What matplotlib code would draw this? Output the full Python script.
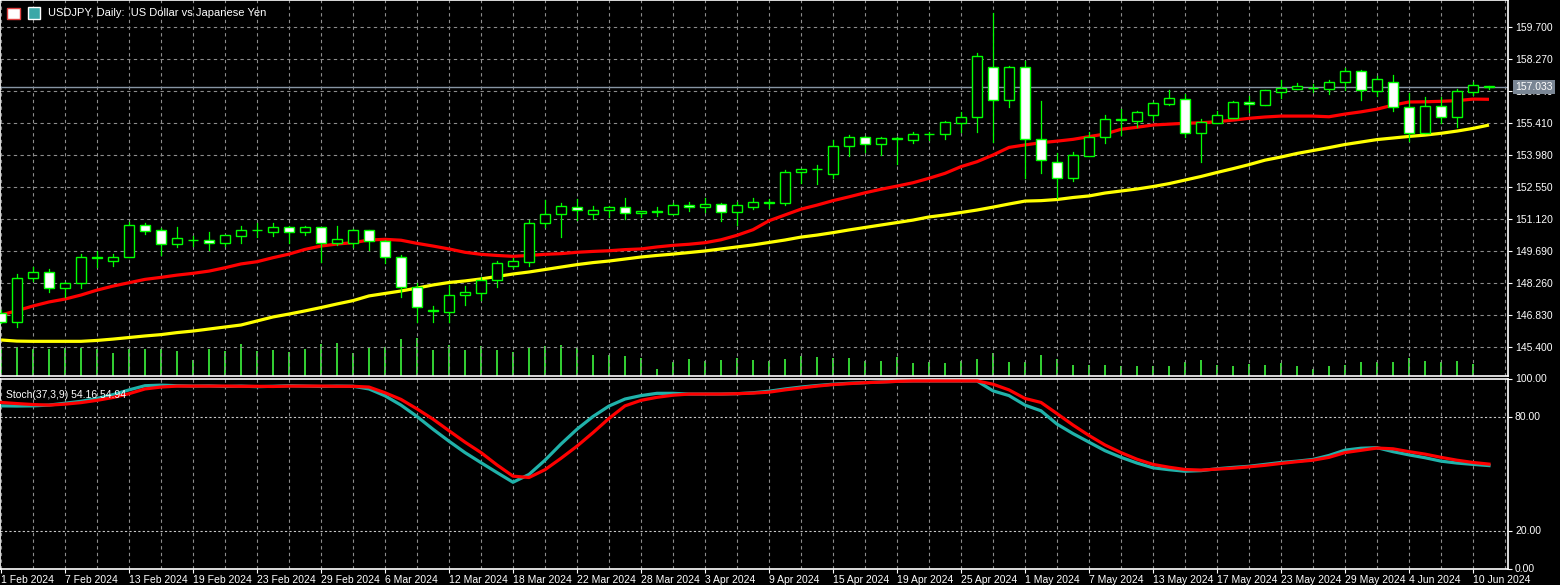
import matplotlib
matplotlib.use('Agg')
import matplotlib.pyplot as plt
from matplotlib.patches import Rectangle

# daily USDJPY bars, 1 Feb 2024 .. 11 Jun 2024
opens = [146.93, 146.50, 148.47, 148.74, 148.02, 148.24, 149.41, 149.26, 149.41, 150.85,
         150.62, 149.99, 150.18, 150.17, 150.06, 150.37, 150.64, 150.52, 150.77, 150.55,
         150.74, 150.03, 150.03, 150.62, 150.13, 149.41, 148.09, 147.05, 146.97, 147.70,
         147.82, 148.39, 149.00, 149.21, 150.92, 151.33, 151.67, 151.36, 151.51, 151.64,
         151.37, 151.46, 151.33, 151.73, 151.64, 151.77, 151.42, 151.67, 151.87, 151.82,
         153.20, 153.36, 153.12, 154.38, 154.77, 154.46, 154.73, 154.65, 154.91, 154.90,
         155.39, 155.69, 157.90, 156.42, 157.90, 154.68, 153.65, 152.94, 153.95, 154.77,
         155.58, 155.51, 155.75, 156.25, 156.47, 154.95, 155.39, 155.64, 156.33, 156.21,
         156.81, 156.94, 156.97, 156.94, 157.23, 157.72, 156.83, 157.23, 156.11, 154.95,
         156.15, 155.66, 156.80, 157.04]
highs = [147.05, 148.66, 148.99, 148.87, 148.30, 149.55, 149.69, 149.55, 150.97, 150.94,
         150.70, 150.77, 150.37, 150.52, 150.42, 150.80, 150.92, 150.93, 150.80, 150.80,
         150.77, 150.80, 150.66, 150.64, 150.20, 149.50, 148.24, 147.23, 148.17, 148.12,
         148.53, 149.25, 149.36, 151.07, 151.97, 151.85, 152.01, 151.69, 151.70, 152.07,
         151.46, 151.67, 151.85, 151.90, 152.06, 151.84, 151.88, 152.05, 152.00, 153.32,
         153.34, 153.55, 154.65, 154.87, 154.85, 154.80, 154.78, 155.00, 155.01, 155.50,
         155.90, 158.55, 160.34, 157.95, 158.18, 156.41, 154.05, 154.12, 155.02, 155.77,
         156.03, 155.95, 156.33, 156.88, 156.72, 155.60, 155.96, 156.38, 156.64, 156.88,
         157.33, 157.22, 157.17, 157.32, 157.86, 157.78, 157.53, 157.55, 156.75, 156.58,
         156.56, 156.95, 157.26, 157.08]
lows = [146.45, 146.30, 148.36, 147.87, 147.62, 148.02, 148.96, 149.00, 149.41, 150.43,
        149.50, 149.88, 149.90, 149.73, 149.90, 150.06, 150.32, 150.36, 150.03, 150.40,
        149.21, 149.96, 149.88, 149.73, 149.16, 147.65, 146.53, 146.53, 146.53, 147.27,
        147.50, 148.09, 148.95, 149.03, 150.77, 150.33, 151.07, 151.14, 151.20, 151.10,
        151.22, 151.24, 151.33, 151.47, 151.42, 151.04, 150.84, 151.57, 151.62, 151.75,
        152.71, 152.68, 152.94, 153.95, 154.13, 154.00, 153.58, 154.53, 154.64, 154.68,
        155.00, 155.02, 154.57, 156.14, 152.96, 153.16, 152.04, 152.84, 153.95, 154.53,
        154.87, 155.25, 155.55, 156.20, 154.77, 153.68, 155.39, 155.64, 155.91, 156.21,
        156.52, 156.94, 156.78, 156.70, 156.87, 156.44, 156.60, 155.96, 154.62, 154.95,
        155.43, 155.22, 156.66, 156.95]
closes = [146.50, 148.47, 148.74, 148.02, 148.24, 149.41, 149.36, 149.41, 150.85, 150.60,
          149.99, 150.26, 150.16, 150.06, 150.40, 150.62, 150.62, 150.77, 150.55, 150.74,
          150.03, 150.21, 150.62, 150.15, 149.41, 148.09, 147.17, 147.02, 147.70, 147.85,
          148.39, 149.14, 149.24, 150.92, 151.33, 151.70, 151.51, 151.51, 151.64, 151.37,
          151.46, 151.44, 151.73, 151.64, 151.77, 151.42, 151.73, 151.88, 151.85, 153.20,
          153.34, 153.37, 154.38, 154.77, 154.46, 154.72, 154.71, 154.90, 154.90, 155.44,
          155.69, 158.40, 156.42, 157.90, 154.68, 153.74, 152.94, 153.98, 154.80, 155.57,
          155.56, 155.89, 156.29, 156.51, 154.95, 155.47, 155.79, 156.33, 156.24, 156.88,
          156.96, 157.05, 156.96, 157.24, 157.72, 156.87, 157.36, 156.11, 154.95, 156.15,
          155.66, 156.84, 157.09, 157.08]
tick_volume = [27, 29, 27, 27, 28, 28, 27, 23, 27, 27, 27, 25, 16, 27, 25, 32, 25, 26, 24, 27,
               32, 33, 23, 28, 29, 37, 38, 26, 31, 26, 30, 26, 24, 28, 30, 31, 28, 21, 21, 20,
               18, 7, 14, 17, 15, 16, 18, 16, 15, 17, 20, 19, 18, 18, 15, 15, 19, 13, 14, 13,
               15, 17, 23, 14, 14, 21, 17, 11, 11, 11, 10, 10, 10, 10, 14, 16, 11, 10, 12, 11,
               13, 10, 7, 10, 11, 14, 14, 14, 18, 15, 14, 15, 12, 0]
ma_red = [146.83, 147.02, 147.23, 147.41, 147.54, 147.72, 147.94, 148.12, 148.27, 148.42,
          148.51, 148.61, 148.69, 148.79, 148.94, 149.11, 149.21, 149.39, 149.55, 149.76,
          149.91, 150.00, 150.06, 150.18, 150.21, 150.17, 150.03, 149.91, 149.78, 149.63,
          149.54, 149.49, 149.45, 149.49, 149.54, 149.57, 149.63, 149.67, 149.70, 149.75,
          149.78, 149.87, 149.94, 149.99, 150.06, 150.19, 150.39, 150.64, 151.04, 151.30,
          151.56, 151.74, 151.94, 152.11, 152.29, 152.45, 152.59, 152.74, 152.94, 153.16,
          153.46, 153.68, 153.98, 154.32, 154.43, 154.53, 154.60, 154.68, 154.80, 154.92,
          155.13, 155.22, 155.32, 155.36, 155.40, 155.42, 155.47, 155.54, 155.62, 155.68,
          155.72, 155.72, 155.72, 155.69, 155.81, 155.91, 156.03, 156.21, 156.35, 156.36,
          156.38, 156.41, 156.48, 156.47]
ma_yellow = [145.71, 145.66, 145.65, 145.65, 145.65, 145.65, 145.69, 145.75, 145.82, 145.89,
             145.95, 146.04, 146.11, 146.20, 146.29, 146.38, 146.56, 146.74, 146.87, 147.01,
             147.16, 147.32, 147.47, 147.68, 147.79, 147.90, 148.03, 148.17, 148.28, 148.35,
             148.44, 148.55, 148.66, 148.75, 148.86, 148.97, 149.08, 149.17, 149.24, 149.33,
             149.42, 149.49, 149.55, 149.62, 149.69, 149.78, 149.87, 149.96, 150.07, 150.18,
             150.31, 150.40, 150.51, 150.63, 150.74, 150.85, 150.96, 151.07, 151.21, 151.30,
             151.41, 151.52, 151.65, 151.79, 151.92, 151.94, 151.99, 152.08, 152.15, 152.28,
             152.37, 152.46, 152.57, 152.70, 152.86, 153.02, 153.20, 153.37, 153.55, 153.75,
             153.89, 154.05, 154.18, 154.31, 154.45, 154.56, 154.67, 154.74, 154.81, 154.87,
             154.95, 155.05, 155.17, 155.32]
stoch_main = [85.6, 85.5, 85.6, 86.0, 87.0, 88.0, 89.5, 91.5, 94.0, 96.2,
              96.5, 96.2, 96.0, 96.1, 95.8, 96.0, 95.7, 95.9, 96.2, 96.0,
              95.8, 96.0, 95.9, 94.5, 90.9, 86.0, 80.0, 73.3, 67.0, 61.0,
              55.7, 50.5, 45.4, 49.5, 57.0, 65.5, 73.3, 80.0, 85.5, 89.2,
              91.0, 92.2, 92.2, 91.8, 91.8, 91.8, 92.0, 92.5, 93.3, 94.5,
              95.5, 96.3, 97.0, 97.5, 97.8, 98.2, 98.5, 98.7, 98.7, 98.7,
              98.7, 98.7, 93.5, 91.0, 86.0, 83.0, 76.0, 71.0, 66.5, 62.0,
              58.5, 55.5, 53.0, 52.0, 51.2, 51.5, 52.5, 53.2, 53.8, 54.8,
              55.8, 56.5, 57.4, 59.5, 62.3, 63.3, 63.6, 61.5, 59.8, 58.3,
              56.5, 55.5, 54.8, 54.16]
stoch_signal = [87.4, 86.8, 86.3, 86.0, 86.5, 87.3, 88.5, 90.0, 92.0, 94.5,
                95.5, 96.0, 96.0, 96.0, 96.0, 95.9, 95.9, 95.8, 96.0, 96.0,
                96.0, 95.9, 95.9, 95.5, 92.5, 89.0, 84.0, 78.6, 72.5, 66.5,
                61.0, 54.5, 48.6, 47.9, 52.0, 58.0, 64.4, 71.5, 79.0, 85.6,
                88.5, 90.1, 91.2, 91.8, 91.8, 91.8, 92.0, 92.3, 92.8, 94.0,
                95.0, 96.0, 96.8, 97.3, 97.8, 98.1, 98.5, 98.7, 98.7, 98.7,
                98.7, 98.7, 97.0, 94.0, 89.5, 87.4, 81.5, 75.5, 70.0, 65.0,
                61.0, 57.5, 54.8, 53.3, 52.1, 51.8, 52.3, 52.8, 53.5, 54.3,
                55.3, 56.2, 57.0, 58.5, 61.0, 62.2, 63.4, 63.0, 61.5, 60.2,
                58.5, 57.0, 55.8, 54.94]
date_labels = ['1 Feb 2024', '7 Feb 2024', '13 Feb 2024', '19 Feb 2024', '23 Feb 2024',
               '29 Feb 2024', '6 Mar 2024', '12 Mar 2024', '18 Mar 2024', '22 Mar 2024',
               '28 Mar 2024', '3 Apr 2024', '9 Apr 2024', '15 Apr 2024', '19 Apr 2024',
               '25 Apr 2024', '1 May 2024', '7 May 2024', '13 May 2024', '17 May 2024',
               '23 May 2024', '29 May 2024', '4 Jun 2024', '10 Jun 2024']
price_ticks = [145.400, 146.830, 148.260, 149.690, 151.120, 152.550, 153.980, 155.410,
               156.840, 158.270, 159.700]
stoch_ticks = [0, 20, 80, 100]
last_price = 157.033

W, H = 1560, 585
plt.rcParams['font.family'] = ['Liberation Sans', 'DejaVu Sans']
fig = plt.figure(figsize=(W / 100, H / 100), dpi=100, facecolor='black')

GRID = '#8c8c8c'
LIME = '#00ff00'
FS = 7.5
n = len(closes)
xs = list(range(n))
xlim = (-1 / 16, 1508 / 16 - 1 / 16)
ylim_main = (144.10, 160.91)

ax = fig.add_axes([0, 1 - 376 / H, 1508 / W, 376 / H])
ax2 = fig.add_axes([0, 1 - 568.5 / H, 1508 / W, 190 / H])

# volumes on their own scale at the bottom of the main pane
axv = ax.twinx()
axv.set_xlim(*xlim)
axv.set_ylim(0, 376)
axv.axis('off')
axv.bar(xs, tick_volume, width=0.13, color='#32cd32', zorder=1)
ax.set_zorder(axv.get_zorder() + 1)

for a in (ax, ax2):
    a.set_facecolor('black')
    a.set_xlim(*xlim)
    for s in a.spines.values():
        s.set_color('white')
        s.set_linewidth(1.2)
    a.yaxis.tick_right()
    a.yaxis.set_label_position('right')
    a.tick_params(axis='y', which='both', left=False, right=True, labelleft=False,
                  labelright=True, colors='white', labelsize=FS, length=3, width=0.8, pad=2)
    for i in range(0, n + 1, 2):
        a.axvline(i, color=GRID, lw=0.8, ls=(0, (3, 3)), zorder=0)
ax.patch.set_visible(False)

# main pane
ax.set_ylim(*ylim_main)
ax.set_yticks(price_ticks)
ax.set_yticklabels(['%.3f' % p for p in price_ticks])
ax.set_xticks([])
for p in price_ticks:
    ax.axhline(p, color=GRID, lw=0.8, ls=(0, (3, 3)), zorder=0)

ax.axhline(last_price, color='#8795a4', lw=1, zorder=1)
ax.plot(xs, ma_yellow, color='#ffff00', lw=2.3, zorder=2, solid_capstyle='butt')
ax.plot(xs, ma_red, color='#ff0000', lw=2.3, zorder=2, solid_capstyle='butt')

for i in xs:
    o, h, l, c = opens[i], highs[i], lows[i], closes[i]
    ax.plot([i, i], [l, h], color=LIME, lw=0.9, zorder=3)
    bot = min(o, c)
    hgt = max(abs(c - o), 0.01)
    fc = 'white' if c < o else 'black'
    ax.add_patch(Rectangle((i - 0.31, bot), 0.62, hgt, facecolor=fc,
                           edgecolor=LIME, lw=1.0, zorder=4))

ax.text(1.005, (last_price - ylim_main[0]) / (ylim_main[1] - ylim_main[0]), '%.3f' % last_price,
        transform=ax.transAxes, color='white', fontsize=FS, va='center', ha='left',
        bbox=dict(boxstyle='square,pad=0.2', fc='#7a8694', ec='none'), zorder=10,
        clip_on=False)

# header
fig.text(48 / W, 1 - 13 / H, 'USDJPY, Daily:  US Dollar vs Japanese Yen',
         color='white', fontsize=8, va='center', ha='left')
fig.patches.append(Rectangle((7 / W, 1 - 19 / H), 13 / W, 11 / H, transform=fig.transFigure,
                             fc='white', ec='#e04040', lw=1))
fig.patches.append(Rectangle((28 / W, 1 - 19 / H), 12 / W, 12 / H, transform=fig.transFigure,
                             fc='#3aa8a8', ec='white', lw=1))

# stochastic pane
ax2.set_ylim(0, 100)
ax2.set_yticks(stoch_ticks)
ax2.set_yticklabels(['%.2f' % v for v in stoch_ticks])
for v in (20, 80):
    ax2.axhline(v, color='#c8c8c8', lw=0.8, ls=(0, (2, 2)), zorder=0)
ax2.plot(xs, stoch_main, color='#20b2aa', lw=2.3, zorder=2)
ax2.plot(xs, stoch_signal, color='#ff0000', lw=2.3, zorder=3)
ax2.text(0.004, 0.94, 'Stoch(37,3,9) %.2f %.2f' % (stoch_main[-1], stoch_signal[-1]),
         transform=ax2.transAxes, color='white', fontsize=FS, va='top', ha='left')

ax2.set_xticks(list(range(0, 4 * len(date_labels), 4)))
ax2.set_xticklabels(date_labels)
ax2.tick_params(axis='x', colors='white', labelsize=FS, length=3, width=0.8, pad=2)
for t in ax2.get_xticklabels():
    t.set_horizontalalignment('left')

fig.savefig('out.png', dpi=100, facecolor='black')
